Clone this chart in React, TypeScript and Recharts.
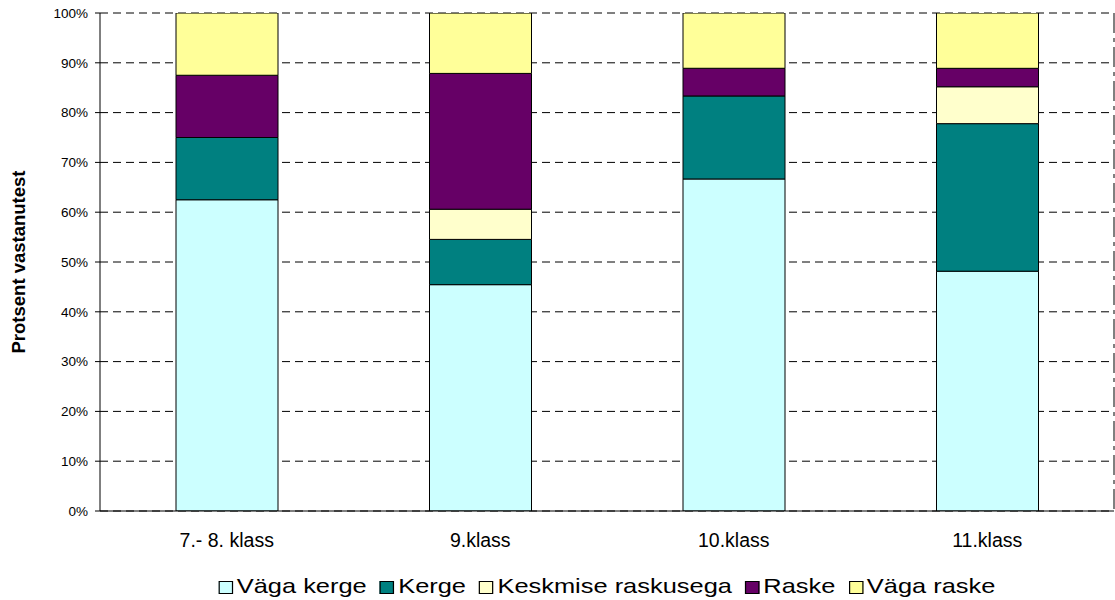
import React from "react";
import {
  BarChart,
  Bar,
  XAxis,
  YAxis,
  CartesianGrid,
  Legend,
  Label,
} from "recharts";

const classes = ["7.- 8. klass", "9.klass", "10.klass", "11.klass"];

// share of answers per class, percent
const vagaKerge = [62.5, 45.45, 66.67, 48.15];
const kerge = [12.5, 9.09, 16.67, 29.63];
const keskmine = [0, 6.06, 0, 7.41];
const raske = [12.5, 27.27, 5.56, 3.7];
const vagaRaske = [12.5, 12.12, 11.11, 11.11];

const percentTicks = [0, 10, 20, 30, 40, 50, 60, 70, 80, 90, 100];
const edgeTicks = [0, 1, 2, 3, 4];

const series = [
  { key: "vagaKerge", name: "Väga kerge", color: "#CCFFFF" },
  { key: "kerge", name: "Kerge", color: "#008080" },
  { key: "keskmine", name: "Keskmise raskusega", color: "#FFFFCC" },
  { key: "raske", name: "Raske", color: "#660066" },
  { key: "vagaRaske", name: "Väga raske", color: "#FFFF99" },
];

const data = classes.map((name, i) => ({
  name,
  vagaKerge: vagaKerge[i],
  kerge: kerge[i],
  keskmine: keskmine[i],
  raske: raske[i],
  vagaRaske: vagaRaske[i],
}));

const FONT = "Arial, 'Liberation Sans', sans-serif";
// legend text is drawn wide, so the whole row is stretched horizontally
const LEGEND_STRETCH = 1.21;

const AxisTitle = (props: any) => {
  const { viewBox } = props;
  const cx = viewBox.x + 18;
  const cy = viewBox.y + viewBox.height / 2;
  return (
    <text
      x={cx}
      y={cy}
      transform={`rotate(-90, ${cx}, ${cy})`}
      textAnchor="middle"
      dominantBaseline="central"
      fontFamily={FONT}
      fontSize={18.5}
      fontWeight="bold"
      fill="#000"
    >
      Protsent vastanutest
    </text>
  );
};

const LegendRow = () => (
  <div
    style={{
      display: "flex",
      justifyContent: "center",
      alignItems: "center",
      height: 28,
      fontFamily: FONT,
      fontSize: 21,
      lineHeight: "28px",
      color: "#000",
      transform: `scaleX(${LEGEND_STRETCH})`,
      transformOrigin: "50% 50%",
      whiteSpace: "nowrap",
    }}
  >
    {series.map((s, i) => (
      <span
        key={s.key}
        style={{
          display: "flex",
          alignItems: "center",
          marginLeft: i === 0 ? 0 : 11,
        }}
      >
        <span
          style={{
            display: "inline-block",
            width: 10,
            height: 11,
            background: s.color,
            border: "1px solid #000",
            marginRight: 3,
            marginTop: 2,
          }}
        />
        {s.name}
      </span>
    ))}
  </div>
);

export default function App() {
  return (
    <div style={{ position: "absolute", left: 0, top: 0, background: "#fff" }}>
      <BarChart
        width={1115}
        height={600}
        data={data}
        margin={{ top: 13, right: 0, left: 0, bottom: 0 }}
        barCategoryGap={0}
      >
        <CartesianGrid
          vertical={false}
          stroke="#000"
          strokeDasharray="8 5"
          yAxisId="left"
          xAxisId="cat"
        />
        <XAxis
          xAxisId="edges"
          type="number"
          domain={[0, 4]}
          ticks={edgeTicks}
          tick={false}
          axisLine={false}
          tickLine={{ stroke: "#000" }}
          tickSize={5}
          height={0}
        />
        <XAxis
          xAxisId="cat"
          dataKey="name"
          height={61}
          axisLine={{ stroke: "#000" }}
          tickLine={false}
          tickSize={6}
          tickMargin={16}
          tick={{ fill: "#000", fontSize: 19.5, fontFamily: FONT }}
        />
        <YAxis
          yAxisId="left"
          width={100}
          domain={[0, 100]}
          ticks={percentTicks}
          interval={0}
          allowDataOverflow
          tickFormatter={(v) => `${v}%`}
          axisLine={{ stroke: "#000" }}
          tickLine={{ stroke: "#000" }}
          tickSize={5}
          tickMargin={7}
          tick={{ fill: "#000", fontSize: 13.5, fontFamily: FONT }}
        >
          <Label content={<AxisTitle />} />
        </YAxis>
        <YAxis
          yAxisId="right"
          orientation="right"
          width={1}
          domain={[0, 100]}
          tick={false}
          tickLine={false}
          axisLine={{ stroke: "#000", strokeDasharray: "20 5 4 5" }}
        />
        <Legend
          verticalAlign="bottom"
          content={<LegendRow />}
          wrapperStyle={{ left: 100, width: 1014 }}
        />
        {series.map((s) => (
          <Bar
            key={s.key}
            dataKey={s.key}
            name={s.name}
            stackId="a"
            xAxisId="cat"
            yAxisId="left"
            fill={s.color}
            stroke="#000"
            strokeWidth={1}
            barSize={102}
            isAnimationActive={false}
          />
        ))}
      </BarChart>
    </div>
  );
}
